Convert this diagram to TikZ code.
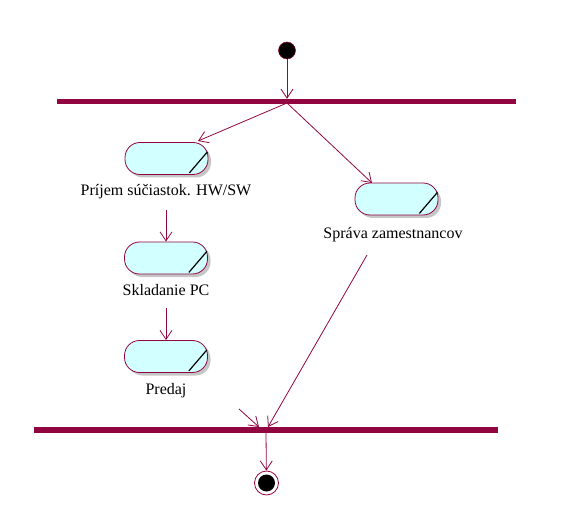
\documentclass[tikz,border=0pt]{standalone}
\usepackage{fontspec}
\setmainfont{Liberation Serif}
\usetikzlibrary{arrows.meta,shadows}
\definecolor{umlred}{RGB}{145,5,65}
\definecolor{umlfill}{RGB}{210,255,255}
\begin{document}
\begin{tikzpicture}[x=1pt,y=-1pt,
  arr/.style={draw=umlred, line width=0.8pt, -{Straight Barb[length=9pt,width=12pt,line width=0.8pt]}},
  bar/.style={rectangle, fill=umlred, inner sep=0pt, minimum height=5pt},
  activity/.style={rectangle, rounded corners=15pt, draw=umlred, line width=0.8pt, fill=umlfill,
    minimum width=83pt, minimum height=32pt, inner sep=0pt,
    drop shadow={shadow xshift=3pt, shadow yshift=-3pt, fill=gray!45, opacity=1}},
  lbl/.style={font=\fontsize{16pt}{19pt}\selectfont, inner sep=2pt},
  slash/.style={draw=black, line width=1.2pt}
]
\useasboundingbox (0,0) rectangle (587,524);

% start
\node[circle, fill=black, draw=umlred, line width=0.5pt, minimum size=17pt, inner sep=0pt] (start) at (287,50.5) {};
% bars
\node[bar, minimum width=459pt] (topbar) at (286.5,101.5) {};
\node[bar, minimum width=464pt, minimum height=6pt] (botbar) at (266,430) {};

% activities
\node[activity] (a1) at (166.5,158.5) {};
\node[activity] (a2) at (396.5,199) {};
\node[activity] (a3) at (166,258) {};
\node[activity] (a4) at (166,356.5) {};

\foreach \n in {a1,a2,a3,a4}{
  \draw[slash] ([shift={(-1pt,23pt)}]\n.south east) -- ([shift={(-19pt,2pt)}]\n.south east);
}

% labels
\node[lbl] (l1) at (166,192) {Príjem súčiastok. HW/SW};
\node[lbl] (l2) at (393,235) {Správa zamestnancov};
\node[lbl] (l3) at (166,290) {Skladanie PC};
\node[lbl] (l4) at (166,391) {Predaj};

% end
\node[circle, draw=umlred, line width=0.8pt, minimum size=24pt, inner sep=0pt] (finish) at (266.5,483) {};
\node[circle, fill=black, minimum size=17pt, inner sep=0pt] (finishdot) at (finish) {};

% coordinates
\coordinate (fork) at (287,103);
\coordinate (in1) at (198,141);
\coordinate (in2) at (372,183);
\coordinate (c2) at (367,255);
\coordinate (c4) at (239,409);
\coordinate (j1) at (259,427);
\coordinate (j2) at (268,427);
\coordinate (j0) at (266,433);

% connectors
\draw[arr] (start) -- (topbar.north -| start);
\draw[arr] (fork) -- (in1);
\draw[arr] (fork) -- (in2);
\draw[arr, shorten <=9pt] (l1) -- (a3);
\draw[arr, shorten <=10pt] (l3) -- (a4);
\draw[arr] (c2) -- (j2);
\draw[arr] (c4) -- (j1);
\draw[arr] (j0) -- (finish);
\end{tikzpicture}
\end{document}
